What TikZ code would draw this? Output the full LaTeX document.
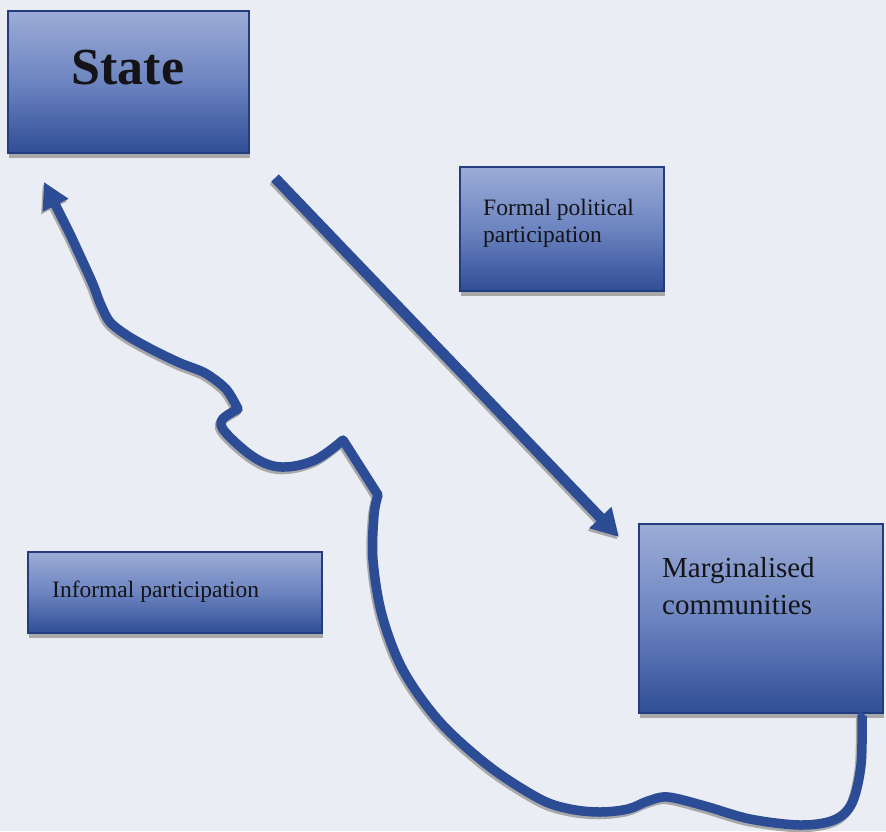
\documentclass[tikz,border=0pt]{standalone}
\usepackage{fontspec}
\setmainfont{Liberation Serif}
\usetikzlibrary{arrows.meta,shadows}
\definecolor{bg}{RGB}{234,237,243}
\definecolor{boxtop}{RGB}{156,172,214}
\definecolor{boxmid}{RGB}{108,132,192}
\definecolor{boxbot}{RGB}{48,78,150}
\definecolor{boxline}{RGB}{34,60,126}
\definecolor{arrowblue}{RGB}{44,76,150}
\definecolor{shadowgray}{RGB}{168,168,168}
\definecolor{textblack}{RGB}{20,20,24}
\begin{document}
\begin{tikzpicture}[x=1pt,y=-1pt,
  gbox/.style={draw=boxline, line width=2pt, top color=boxtop, bottom color=boxbot,
    middle color=boxmid, inner sep=0pt, anchor=north west,
    drop shadow={shadow xshift=1pt, shadow yshift=-5pt, fill=shadowgray, opacity=1}},
  lbl/.style={inner sep=0pt, text=textblack},
  conn/.style={line width=10.5pt, draw=#1, -{Triangle[length=27pt,width=29pt]}},
  curvy/.style={line width=9.5pt, draw=#1, line join=round, -{Triangle[length=26pt,width=27pt]}}
]
\fill[bg] (0,0) rectangle (886,831);
\useasboundingbox (0,0) rectangle (886,831);

% boxes
\node[gbox, minimum width=241pt, minimum height=142pt] (state) at (7,10) {};
\node[gbox, minimum width=204pt, minimum height=124pt] (formal) at (459,166) {};
\node[gbox, minimum width=294pt, minimum height=81pt] (informal) at (27,551) {};
\node[gbox, minimum width=244pt, minimum height=189pt] (marg) at (638,523) {};

% labels (base anchor of a multi-line node = last line)
\node[lbl, font=\bfseries\fontsize{52}{60}\selectfont, anchor=base] (statetxt) at (128,84) {State};
\node[lbl, font=\fontsize{23.5}{27}\selectfont, anchor=base west, align=left] (formaltxt) at (483,242) {Formal political\\participation};
\node[lbl, font=\fontsize{23.5}{27}\selectfont, anchor=base west] (informaltxt) at (52,597) {Informal participation};
\node[lbl, font=\fontsize{29}{37}\selectfont, anchor=base west, align=left] (margtxt) at (662,614) {Marginalised\\communities};

% connector end points
\coordinate (dstart) at (275,178);
\coordinate (dend) at (619,537);
\coordinate (cstart) at ([xshift=-20pt]marg.south east);
\coordinate (cend) at (44,182);

% arrows (shadow first, then blue)
\foreach \c/\dx/\dy in {shadowgray/-1.5/-2.5, arrowblue/0/0}{
  \begin{scope}[transform canvas={xshift=\dx pt, yshift=\dy pt}]
    \draw[conn=\c] (dstart) -- (dend);
    \draw[curvy=\c] (cstart) -- plot[smooth, tension=0.55] coordinates {
      (862,716) (861,765) (852,803) (834,820) (800,825) (750,819) (705,806)
      (668,797) (648,801) (628,809) (600,812) (570,809) (540,799) (490,767)
      (440,722) (403,670) (382,615) (373,560) (374,515) (378,495)}
      -- (343,440)
      -- plot[smooth, tension=0.6] coordinates {(343,440) (315,460) (282,467)
      (255,458) (226,433) (222,420) (238,409)}
      -- plot[smooth, tension=0.5] coordinates {(238,409) (226,389) (205,373)
      (180,363) (153,350) (128,336) (110,322) (100,303) (92,282) (70,234)}
      -- (cend);
  \end{scope}
}
\end{tikzpicture}
\end{document}
